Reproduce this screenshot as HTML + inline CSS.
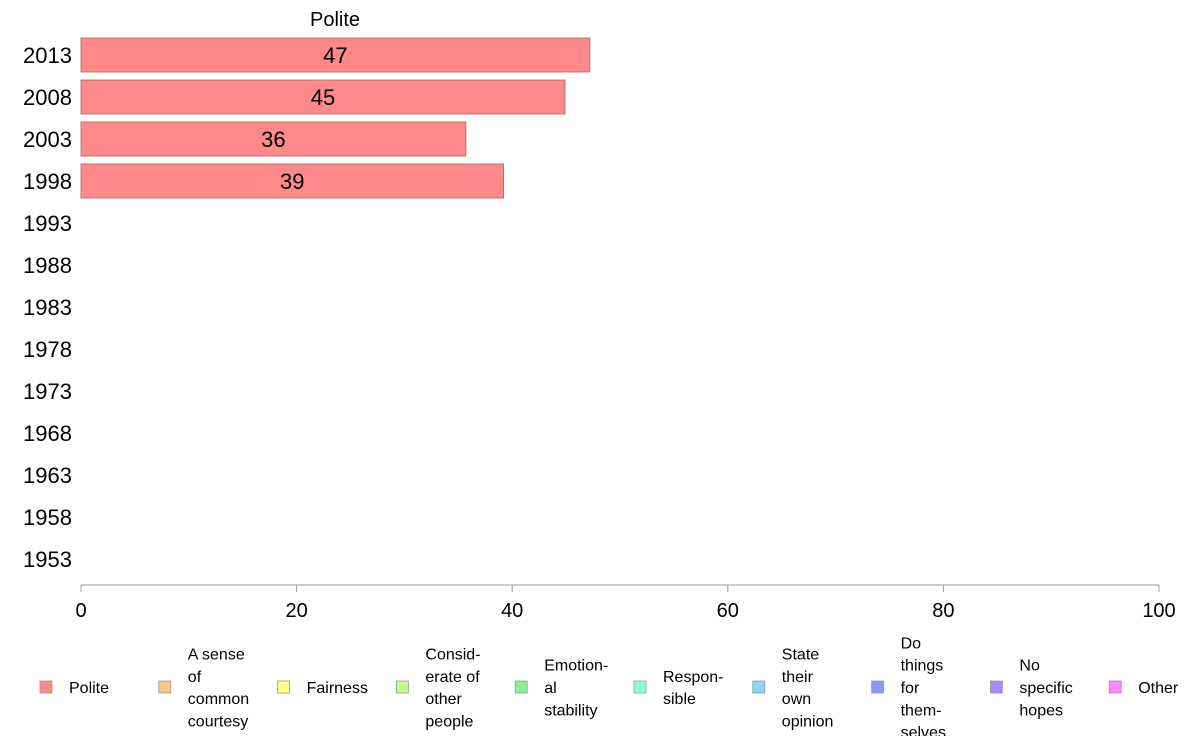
<!DOCTYPE html>
<html><head><meta charset="utf-8"><style>
body{margin:0;background:#fff;font-family:"Liberation Sans",Arial,sans-serif;}
svg{display:block}
</style></head><body>
<svg id="chart" width="1188" height="736"></svg>
<script>
const years=["2013","2008","2003","1998","1993","1988","1983","1978","1973","1968","1963","1958","1953"];
const politeValues=[47.2,44.9,35.7,39.2,null,null,null,null,null,null,null,null,null];
const valueLabels=["47","45","36","39"];
const xTicks=[0,20,40,60,80,100];
const legendLabels=[["Polite"],["A sense","of","common","courtesy"],["Fairness"],["Consid-","erate of","other","people"],["Emotion-","al","stability"],["Respon-","sible"],["State","their","own","opinion"],["Do","things","for","them-","selves"],["No","specific","hopes"],["Other"]];
const legendColors=["#ff8888","#ffc888","#ffff88","#c0ff88","#88f098","#88ffdd","#88d8ff","#8899ff","#aa88ff","#ff88ff"];

const NS="http://www.w3.org/2000/svg";
const svg=document.getElementById("chart");
function mk(tag,attrs,parent){const e=document.createElementNS(NS,tag);for(const k in attrs)e.setAttribute(k,attrs[k]);(parent||svg).appendChild(e);return e;}
const x0=81,x1=1159;
const xs=v=>x0+(v/100)*(x1-x0);
const bandTop=34,step=42;
const yc=i=>bandTop+step*i+21;

const title=mk("text",{x:335,y:26,"font-size":20,"text-anchor":"middle",fill:"#000"});
title.textContent="Polite";



years.forEach((y,i)=>{
  const t=mk("text",{x:72,y:yc(i)+8,"font-size":22,"text-anchor":"end",fill:"#000"});
  t.textContent=y;
  
  
  const v=politeValues[i];
  if(v!=null){
    const r=mk("rect",{x:x0,y:yc(i)-17,width:xs(v)-x0,height:34,fill:"#ff8888",stroke:"#b06060","stroke-width":0.8});
    
    
    const l=mk("text",{x:(x0+xs(v))/2,y:yc(i)+8,"font-size":22,"text-anchor":"middle",fill:"#000"});
    l.textContent=valueLabels[i];
    
    
  }
});

const ax=mk("line",{x1:x0,x2:x1,y1:585,y2:585,stroke:"#999","stroke-width":1});


xTicks.forEach(v=>{
  const tk=mk("line",{x1:xs(v),x2:xs(v),y1:585,y2:592,stroke:"#999"});
  
  
  const t=mk("text",{x:xs(v),y:617,"font-size":20,"text-anchor":"middle",fill:"#000"});
  t.textContent=v;
  
  
});

legendLabels.forEach((lines,i)=>{
  const sx=40+i*118.8;
  const g=mk("g",{});
  
  
  mk("rect",{x:sx,y:681,width:12,height:12,fill:legendColors[i],stroke:"#999","stroke-width":0.8},g);
  const n=lines.length,lh=22.3;
  const top=687-(n-1)*lh/2;
  lines.forEach((ln,j)=>{
    const t=mk("text",{x:sx+29,y:top+j*lh+6,"font-size":16,fill:"#000"},g);
    t.textContent=ln;
  });
});
</script>
</body></html>
